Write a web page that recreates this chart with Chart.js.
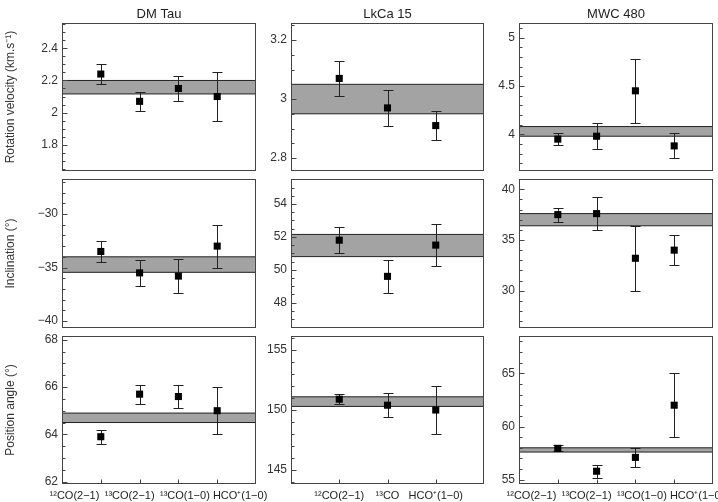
<!DOCTYPE html>
<html><head><meta charset="utf-8">
<script src="https://cdn.jsdelivr.net/npm/chart.js@4/dist/chart.umd.min.js"></script>
<style>
html,body{margin:0;padding:0;background:#fff;}
#wrap{position:relative;width:718px;height:502px;overflow:hidden;background:#fff;}
canvas{position:absolute;}
</style></head><body><div id="wrap"></div>
<script>
// ---- text ----
const sources = ['DM Tau', 'LkCa 15', 'MWC 480'];
const quantities = ['Rotation velocity (km.s⁻¹)', 'Inclination (°)', 'Position angle (°)'];
const linesFour = ['¹²CO(2−1)', '¹³CO(2−1)', '¹³CO(1−0)', 'HCO⁺(1−0)'];
const linesThree = ['¹²CO(2−1)', '¹³CO', 'HCO⁺(1−0)'];

// ---- rotation velocity (km/s) ----
const dmVel = [2.24, 2.07, 2.15, 2.10];
const dmVelLo = [2.18, 2.01, 2.07, 1.95];
const dmVelHi = [2.30, 2.13, 2.23, 2.25];
const dmVelBand = [2.116, 2.20];
const dmVelTicks = [1.8, 2, 2.2, 2.4];

const lkVel = [3.07, 2.97, 2.91];
const lkVelLo = [3.01, 2.91, 2.86];
const lkVelHi = [3.13, 3.03, 2.96];
const lkVelBand = [2.95, 3.05];
const lkVelTicks = [2.8, 3, 3.2];

const mwVel = [3.95, 3.98, 4.45, 3.88];
const mwVelLo = [3.89, 3.845, 4.12, 3.755];
const mwVelHi = [4.01, 4.12, 4.78, 4.01];
const mwVelBand = [3.98, 4.08];
const mwVelTicks = [4, 4.5, 5];

// ---- inclination (deg) ----
const dmInc = [-33.5, -35.5, -35.8, -33.0];
const dmIncLo = [-34.5, -36.7, -37.35, -35.0];
const dmIncHi = [-32.5, -34.3, -34.25, -31.0];
const dmIncBand = [-35.45, -34.0];
const dmIncTicks = [-40, -35, -30];

const lkInc = [51.8, 49.6, 51.5];
const lkIncLo = [51.0, 48.6, 50.2];
const lkIncHi = [52.6, 50.6, 52.8];
const lkIncBand = [50.8, 52.15];
const lkIncTicks = [48, 50, 52, 54];

const mwInc = [37.5, 37.6, 33.2, 34.0];
const mwIncLo = [36.8, 36.0, 30.0, 32.5];
const mwIncHi = [38.2, 39.2, 36.4, 35.5];
const mwIncBand = [36.4, 37.6];
const mwIncTicks = [30, 35, 40];

// ---- position angle (deg) ----
const dmPa = [63.9, 65.7, 65.6, 65.0];
const dmPaLo = [63.6, 65.3, 65.1, 64.0];
const dmPaHi = [64.2, 66.1, 66.1, 66.0];
const dmPaBand = [64.5, 64.9];
const dmPaTicks = [62, 64, 66, 68];

const lkPa = [150.9, 150.4, 150.0];
const lkPaLo = [150.5, 149.4, 148.0];
const lkPaHi = [151.3, 151.4, 152.0];
const lkPaBand = [150.3, 151.1];
const lkPaTicks = [145, 150, 155];

const mwPa = [57.95, 55.8, 57.1, 62.0];
const mwPaLo = [57.7, 55.2, 56.2, 59.0];
const mwPaHi = [58.3, 56.4, 58.0, 65.0];
const mwPaBand = [57.6, 58.0];
const mwPaTicks = [55, 60, 65];

// ---- panels (data + axis ranges) ----
const panels = [
  [
    {vals: dmVel, lo: dmVelLo, hi: dmVelHi, band: dmVelBand, ticks: dmVelTicks, min: 1.636, max: 2.558, minor: 0.05, labels: linesFour},
    {vals: lkVel, lo: lkVelLo, hi: lkVelHi, band: lkVelBand, ticks: lkVelTicks, min: 2.756, max: 3.258, minor: 0.05, labels: linesThree},
    {vals: mwVel, lo: mwVelLo, hi: mwVelHi, band: mwVelBand, ticks: mwVelTicks, min: 3.62, max: 5.152, minor: 0.1, labels: linesFour}
  ],
  [
    {vals: dmInc, lo: dmIncLo, hi: dmIncHi, band: dmIncBand, ticks: dmIncTicks, min: -40.65, max: -26.73, minor: 1, labels: linesFour},
    {vals: lkInc, lo: lkIncLo, hi: lkIncHi, band: lkIncBand, ticks: lkIncTicks, min: 46.46, max: 55.52, minor: 0.5, labels: linesThree},
    {vals: mwInc, lo: mwIncLo, hi: mwIncHi, band: mwIncBand, ticks: mwIncTicks, min: 26.33, max: 41.01, minor: 1, labels: linesFour}
  ],
  [
    {vals: dmPa, lo: dmPaLo, hi: dmPaHi, band: dmPaBand, ticks: dmPaTicks, min: 61.9, max: 68.16, minor: 0.5, labels: linesFour},
    {vals: lkPa, lo: lkPaLo, hi: lkPaHi, band: lkPaBand, ticks: lkPaTicks, min: 143.83, max: 156.17, minor: 1, labels: linesThree},
    {vals: mwPa, lo: mwPaLo, hi: mwPaHi, band: mwPaBand, ticks: mwPaTicks, min: 54.6, max: 68.5, minor: 1, labels: linesFour}
  ]
];

// ---- layout ----
const cols = [{l: 62, r: 256}, {l: 291, r: 484}, {l: 519, r: 713}];
const rows = [{t: 23, b: 171}, {t: 179, b: 328}, {t: 336, b: 484}];
const FONT = 'Liberation Sans, Arial, sans-serif';
const INK = '#333';

const fmt = v => (v < 0 ? '−' + Math.abs(v) : String(v));

const decor = {
  id: 'decor',
  beforeDatasetDraw(chart, args) {
    if (args.index !== 0) return;
    const p = chart.$panel, ctx = chart.ctx;
    const xs = chart.scales.x, ys = chart.scales.y;
    ctx.save();
    ctx.strokeStyle = '#222';
    ctx.lineWidth = 1;
    p.vals.forEach((v, i) => {
      const x = Math.round(xs.getPixelForValue(i + 1)) + 0.5;
      const y1 = Math.round(ys.getPixelForValue(p.lo[i])) + 0.5;
      const y2 = Math.round(ys.getPixelForValue(p.hi[i])) + 0.5;
      ctx.beginPath();
      ctx.moveTo(x, y1); ctx.lineTo(x, y2);
      ctx.moveTo(x - 5, y1); ctx.lineTo(x + 5, y1);
      ctx.moveTo(x - 5, y2); ctx.lineTo(x + 5, y2);
      ctx.stroke();
    });
    ctx.restore();
  },
  afterDraw(chart) {
    const p = chart.$panel, ctx = chart.ctx, a = chart.chartArea;
    const xs = chart.scales.x, ys = chart.scales.y;
    const L = Math.round(a.left) + 0.5, R = Math.round(a.right) - 0.5;
    const T = Math.round(a.top) + 0.5, B = Math.round(a.bottom) - 0.5;
    ctx.save();
    ctx.strokeStyle = '#444';
    ctx.lineWidth = 1;
    ctx.strokeRect(L, T, R - L, B - T);
    ctx.beginPath();
    p.ticks.forEach(v => {
      const y = Math.round(ys.getPixelForValue(v)) + 0.5;
      ctx.moveTo(L, y); ctx.lineTo(L + 5, y);
    });
    const k0 = Math.ceil(p.min / p.minor - 1e-6), k1 = Math.floor(p.max / p.minor + 1e-6);
    for (let k = k0; k <= k1; k++) {
      const v = k * p.minor;
      if (p.ticks.some(t => Math.abs(t - v) < 1e-6)) continue;
      const y = Math.round(ys.getPixelForValue(v)) + 0.5;
      ctx.moveTo(L, y); ctx.lineTo(L + 3, y);
    }
    if (chart.$bottom) {
      p.vals.forEach((v, i) => {
        const x = Math.round(xs.getPixelForValue(i + 1)) + 0.5;
        ctx.moveTo(x, B); ctx.lineTo(x, B - 4);
      });
    }
    ctx.stroke();
    ctx.restore();
  }
};

const wrap = document.getElementById('wrap');
for (let r = 0; r < 3; r++) {
  for (let c = 0; c < 3; c++) {
    const p = panels[r][c];
    const n = p.vals.length;
    const rightPad = (r === 2 && c < 2) ? 20 : 5;
    const left = c === 0 ? 0 : cols[c].l - 40;
    const width = cols[c].r + rightPad - left;
    const top = r === 0 ? 0 : rows[r].t - 12;
    const bottom = r === 2 ? 502 : rows[r].b + 12;
    const height = bottom - top;
    const yW = cols[c].l - left;

    const cv = document.createElement('canvas');
    cv.width = width; cv.height = height;
    cv.style.left = left + 'px'; cv.style.top = top + 'px';
    cv.style.width = width + 'px'; cv.style.height = height + 'px';
    wrap.appendChild(cv);

    const scales = {
      x: {type: 'linear', display: false, min: 0, max: n + 1},
      y: {
        type: 'linear', position: 'left', min: p.min, max: p.max,
        afterBuildTicks: s => { s.ticks = p.ticks.map(v => ({value: v})); },
        afterFit: s => { s.width = yW; s.paddingTop = 0; s.paddingBottom = 0; },
        grid: {display: false, drawTicks: false},
        border: {display: false},
        ticks: {padding: 4, color: INK, font: {family: FONT, size: 12}, callback: v => fmt(v)},
        title: c === 0
          ? {display: true, text: quantities[r], color: INK, font: {family: FONT, size: 12}, padding: {top: 3, bottom: 0}}
          : {display: false}
      }
    };
    if (r === 0) {
      scales.xt = {
        type: 'linear', position: 'top', min: 0, max: 1,
        grid: {display: false, drawTicks: false}, border: {display: false},
        ticks: {display: false},
        title: {display: true, text: sources[c], color: '#222', font: {family: FONT, size: 13}, padding: {top: 6.5, bottom: 0}},
        afterFit: s => { s.height = 23; s.paddingLeft = 0; s.paddingRight = 0; }
      };
    }
    if (r === 2) {
      const four = p.labels.length === 4;
      scales.xl = {
        type: 'linear', position: 'bottom',
        min: four ? 0.774 : 0, max: four ? 4.288 : 4,
        afterBuildTicks: s => { s.ticks = p.labels.map((_, i) => ({value: i + 1})); },
        grid: {display: false, drawTicks: false}, border: {display: false},
        ticks: {autoSkip: false, maxRotation: 0, minRotation: 0, padding: 5, color: '#222',
                font: {family: FONT, size: 11},
                callback: v => p.labels[Math.round(v) - 1]},
        afterFit: s => { s.height = 18; s.paddingLeft = 0; s.paddingRight = 0; }
      };
    }

    new Chart(cv, {
      type: 'line',
      data: {
        datasets: [
          {
            data: p.vals.map((v, i) => ({x: i + 1, y: v})),
            showLine: false, pointStyle: 'rect', pointRadius: 5,
            pointBackgroundColor: '#000', pointBorderWidth: 0, pointHoverRadius: 5
          },
          {
            data: [{x: 0, y: p.band[0]}, {x: n + 1, y: p.band[0]}],
            borderColor: '#222', borderWidth: 1, pointRadius: 0, fill: false
          },
          {
            data: [{x: 0, y: p.band[1]}, {x: n + 1, y: p.band[1]}],
            borderColor: '#222', borderWidth: 1, pointRadius: 0,
            fill: '-1', backgroundColor: '#a3a3a3'
          }
        ]
      },
      options: {
        responsive: false, animation: false, events: [],
        layout: {padding: {left: 0, right: rightPad, top: r === 0 ? 0 : 12, bottom: r === 2 ? 0 : 12}},
        plugins: {legend: {display: false}, tooltip: {enabled: false}, title: {display: false}},
        scales
      },
      plugins: [{
        id: 'tag',
        beforeInit(ch) { ch.$panel = p; ch.$bottom = (r === 2); }
      }, decor]
    });
  }
}
</script></body></html>
